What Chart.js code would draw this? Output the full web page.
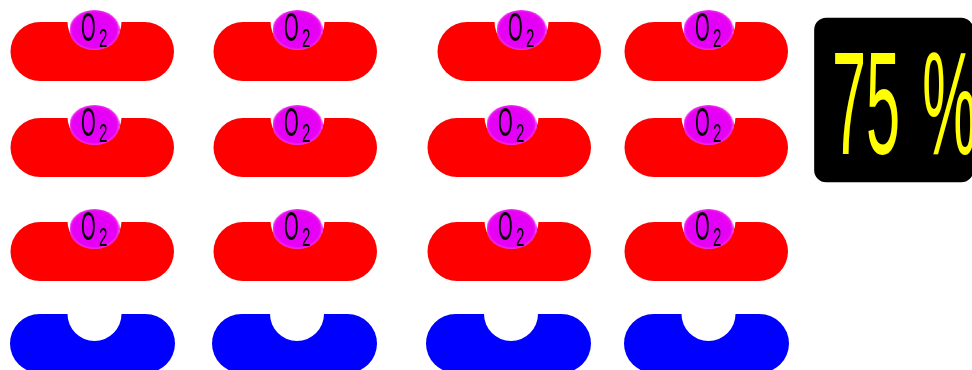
<!DOCTYPE html>
<html>
<head>
<meta charset="utf-8">
<style>
html, body { margin: 0; padding: 0; background: #fff; overflow: hidden; }
canvas { display: block; }
</style>
<script src="https://cdn.jsdelivr.net/npm/chart.js@4"></script>
</head>
<body>
<canvas id="chartCells" width="972" height="370"></canvas>
<script>
// Globulos: cada fila con su centro vertical y sus extremos horizontales
const redRowY = [51.5, 147.5, 251.5];
const redStarts = [
    [10.5, 213.5, 437.5, 624.5],
    [10.5, 213.5, 427.5, 624.5],
    [10.5, 213.5, 427.5, 624.5]
];
const blueRowY = 343.5;
const blueStarts = [10, 212, 426, 624];
const redLength = 163.5;
const blueLength = 165;
const cellThick = 59;

// Oxigeno unido a cada globulo rojo
const oxygenY = [30, 125, 229];
const oxygenX = [
    [94.5, 297.5, 521.5, 708.5],
    [94.5, 297.5, 511.5, 708.5],
    [94.5, 297.5, 511.5, 708.5]
];
const blueNotchX = [94.5, 297, 511, 708.5];
const blueNotchY = 314;
const oxygenLabel = ['O', '2'];

// Recuadro del porcentaje
const boxX = [814.5, 973];
const boxY = [18, 182];
const percentLabel = '75 %';

// Punto eliptico del oxigeno
function makeOxygen() {
    const c = document.createElement('canvas');
    c.width = 50;
    c.height = 40;
    const g = c.getContext('2d');
    g.translate(25, 20);
    g.scale(1, 20 / 25);
    const grad = g.createRadialGradient(0, 0, 4, 0, 0, 25);
    grad.addColorStop(0, '#e000f8');
    grad.addColorStop(0.85, '#e800f4');
    grad.addColorStop(1, '#ee30f0');
    g.fillStyle = grad;
    g.beginPath();
    g.arc(0, 0, 25, 0, Math.PI * 2);
    g.fill();
    return c;
}

function capsule(start, length, y, color) {
    const r = cellThick / 2;
    return {
        type: 'line',
        order: 5,
        data: [{ x: start + r, y: y }, { x: start + length - r, y: y }],
        borderColor: color,
        borderWidth: cellThick,
        borderCapStyle: 'round',
        pointRadius: 0,
        clip: false
    };
}

const datasets = [];
redStarts.forEach((row, i) => row.forEach(s => datasets.push(capsule(s, redLength, redRowY[i], '#ff0000'))));
blueStarts.forEach(s => datasets.push(capsule(s, blueLength, blueRowY, '#0000ff')));

// Muesca blanca bajo cada oxigeno
const notches = [];
oxygenX.forEach((row, i) => row.forEach(x => notches.push({ x: x, y: oxygenY[i] - 8 })));
blueNotchX.forEach(x => notches.push({ x: x, y: blueNotchY }));
datasets.push({
    type: 'line',
    order: 4,
    data: notches,
    showLine: false,
    pointRadius: 27,
    pointBorderWidth: 0,
    pointBackgroundColor: '#ffffff'
});

const oxygenPoints = [];
oxygenX.forEach((row, i) => row.forEach(x => oxygenPoints.push({ x: x, y: oxygenY[i] })));
datasets.push({
    type: 'line',
    order: 3,
    data: oxygenPoints,
    showLine: false,
    pointStyle: makeOxygen(),
    pointRadius: 25
});

datasets.push({
    type: 'bar',
    order: 2,
    data: [{ x: (boxX[0] + boxX[1]) / 2, y: boxY }],
    backgroundColor: '#000000',
    barThickness: boxX[1] - boxX[0],
    borderRadius: 12,
    borderSkipped: false
});

// Textos encima de las marcas
const labels = {
    id: 'labels',
    afterDatasetsDraw(chart) {
        const ctx = chart.ctx;
        const sx = chart.scales.x;
        const sy = chart.scales.y;
        function stretched(text, x, y, size, scaleX, color, gap) {
            ctx.save();
            ctx.translate(sx.getPixelForValue(x), sy.getPixelForValue(y));
            ctx.scale(scaleX, 1);
            ctx.font = size + 'px "Liberation Sans"';
            ctx.wordSpacing = (gap || 0) + 'px';
            ctx.textAlign = 'left';
            ctx.textBaseline = 'alphabetic';
            ctx.fillStyle = color;
            ctx.fillText(text, 0, 0);
            ctx.restore();
        }
        oxygenPoints.forEach(p => {
            stretched(oxygenLabel[0], p.x - 13.5, p.y + 11, 41, 0.46, '#000000');
            stretched(oxygenLabel[1], p.x + 4.5, p.y + 16.5, 26, 0.58, '#000000');
        });
        stretched(percentLabel, 832, 154, 146, 0.42, '#ffff00', 12);
    }
};

new Chart(document.getElementById('chartCells'), {
    type: 'line',
    data: { datasets: datasets },
    plugins: [labels],
    options: {
        responsive: false,
        animation: false,
        layout: { padding: 0, autoPadding: false },
        plugins: { legend: { display: false }, tooltip: { enabled: false } },
        scales: {
            x: { type: 'linear', min: 0, max: 972, display: false, offset: false, grid: { display: false } },
            y: { type: 'linear', min: 0, max: 370, reverse: true, display: false, grid: { display: false } }
        }
    }
});
</script>
</body>
</html>
